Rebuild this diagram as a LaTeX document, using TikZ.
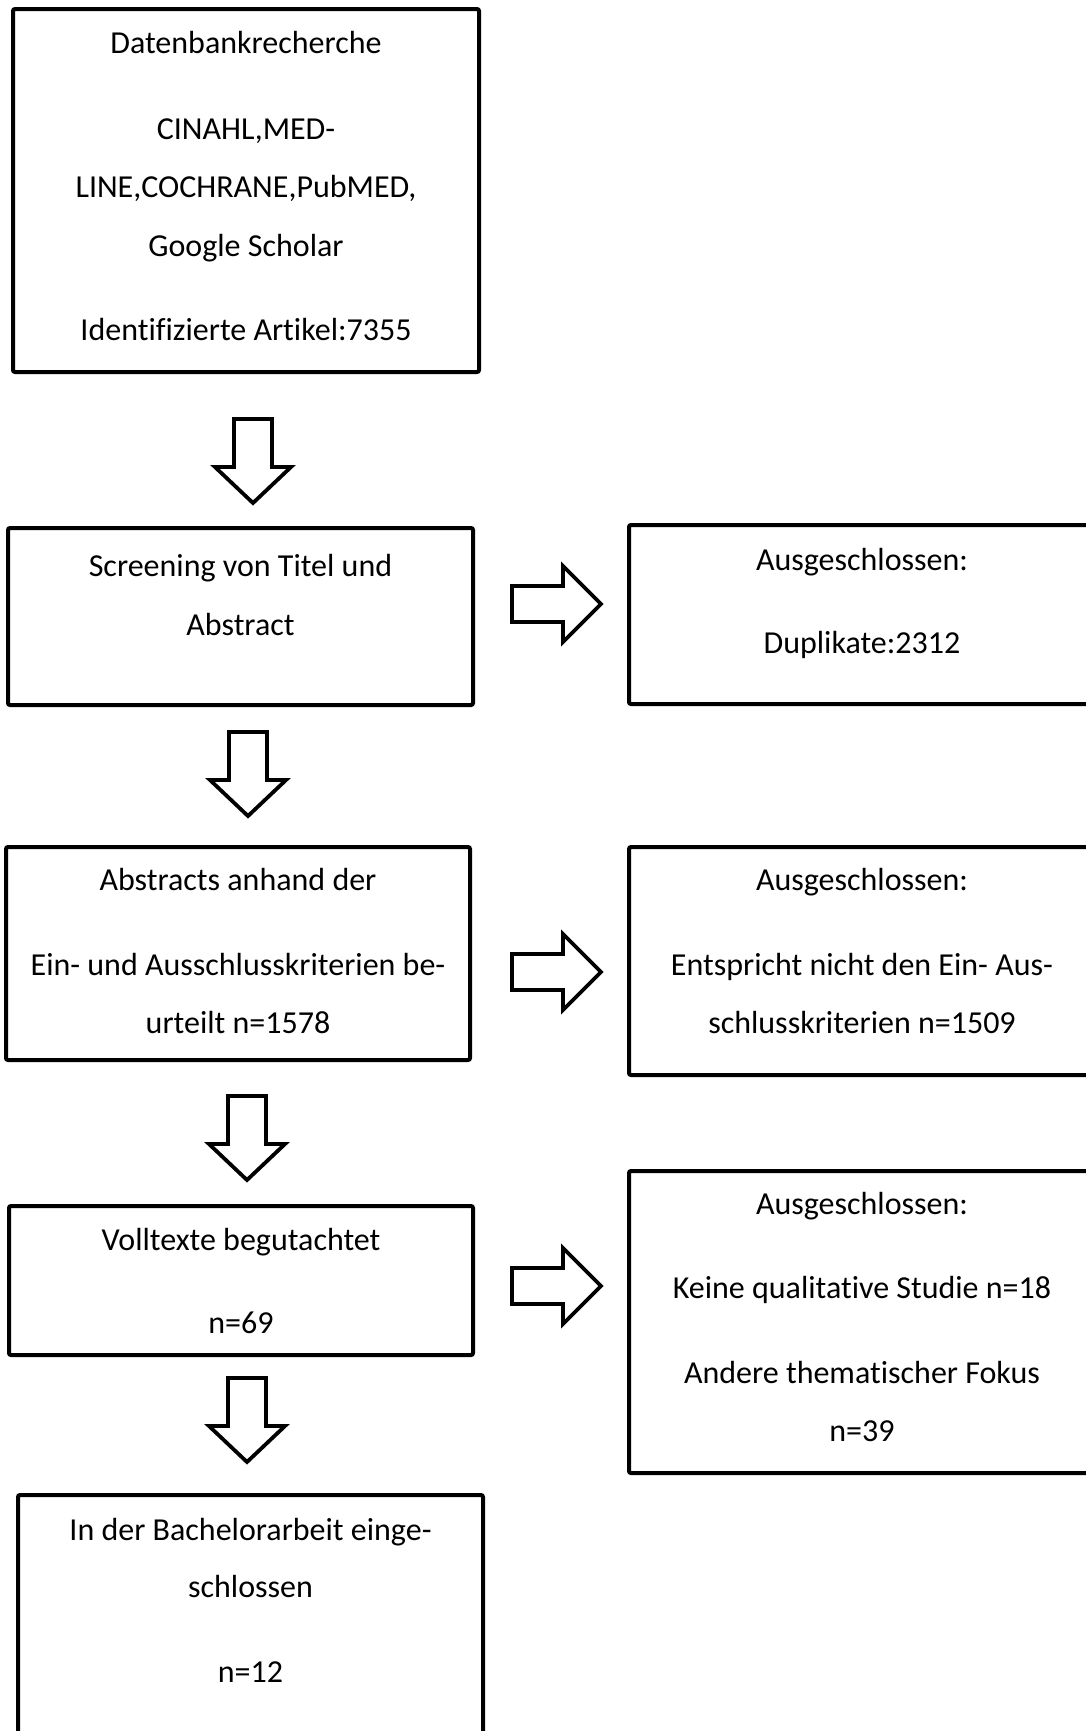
\documentclass[tikz,border=0pt]{standalone}
\usepackage{fontspec}
\setmainfont{Carlito}[Ligatures={NoCommon}]
\begin{document}
\begin{tikzpicture}[x=0.5pt,y=-0.5pt]
\tikzset{
 box/.style={draw, line width=2pt, rounded corners=1pt, inner sep=0pt},
 lbl/.style={anchor=base, inner sep=0pt, font=\fontsize{16pt}{19pt}\selectfont},
 blockarr/.style={draw, line width=1.9pt, fill=white, line join=miter},
 downarr/.pic={\path[blockarr] (-19,0) -- (19,0) -- (19,48) -- (38,48) -- (0,84) -- (-38,48) -- (-19,48) -- cycle;},
 rightarr/.pic={\path[blockarr] (0,-18) -- (51,-18) -- (51,-38) -- (89,0) -- (51,38) -- (51,18) -- (0,18) -- cycle;}
}
\useasboundingbox (0,0) rectangle (1086,1731);
\clip (0,0) rectangle (1086,1731);
\fill[white] (0,0) rectangle (1086,1731);

% boxes
\node[box, minimum width=233pt, minimum height=181.5pt] (b1) at (246,190.5) {};
\node[box, minimum width=232.5pt, minimum height=88.5pt] (b2) at (240.5,616.5) {};
\node[box, minimum width=233pt, minimum height=89.5pt] (r1) at (862,614.5) {};
\node[box, minimum width=232pt, minimum height=106.5pt] (b3) at (238,953.5) {};
\node[box, minimum width=233pt, minimum height=114pt] (r2) at (862,961) {};
\node[box, minimum width=232pt, minimum height=74.5pt] (b4) at (241,1280.5) {};
\node[box, minimum width=233pt, minimum height=151pt] (r3) at (862,1322) {};
\node[box, minimum width=232.5pt, minimum height=142.5pt] (b5) at (250.5,1637.5) {};

% texts box 1
\node[lbl] (t11) at (246,53) {Datenbankrecherche};
\node[lbl] (t12) at (246,139) {CINAHL,MED-};
\node[lbl] (t13) at (246,197) {LINE,COCHRANE,PubMED,};
\node[lbl] (t14) at (246,256) {Google Scholar};
\node[lbl] (t15) at (246,340) {Identifizierte Artikel:7355};
% box 2
\node[lbl] (t21) at (240.5,576) {Screening von Titel und};
\node[lbl] (t22) at (240.5,635) {Abstract};
% r1
\node[lbl] (u11) at (862,570) {Ausgeschlossen:};
\node[lbl] (u12) at (862,653) {Duplikate:2312};
% box 3
\node[lbl] (t31) at (238,890) {Abstracts anhand der};
\node[lbl] (t32) at (238,975) {Ein- und Ausschlusskriterien be-};
\node[lbl] (t33) at (238,1033) {urteilt n=1578};
% r2
\node[lbl] (u21) at (862,890) {Ausgeschlossen:};
\node[lbl] (u22) at (862,975) {Entspricht nicht den Ein- Aus-};
\node[lbl] (u23) at (862,1033) {schlusskriterien n=1509};
% box 4
\node[lbl] (t41) at (241,1250) {Volltexte begutachtet};
\node[lbl] (t42) at (241,1333) {n=69};
% r3
\node[lbl] (u31) at (862,1214) {Ausgeschlossen:};
\node[lbl] (u32) at (862,1298) {Keine qualitative Studie n=18};
\node[lbl] (u33) at (862,1383) {Andere thematischer Fokus};
\node[lbl] (u34) at (862,1441) {n=39};
% box 5
\node[lbl] (t51) at (250.5,1540) {In der Bachelorarbeit einge-};
\node[lbl] (t52) at (250.5,1597) {schlossen};
\node[lbl] (t53) at (250.5,1682) {n=12};

% block arrows
\pic (a1) at (253,419) {downarr};
\pic (a2) at (248,732) {downarr};
\pic (a3) at (247,1096) {downarr};
\pic (a4) at (247,1378) {downarr};
\pic (ra1) at (512,604) {rightarr};
\pic (ra2) at (512,972) {rightarr};
\pic (ra3) at (512,1286) {rightarr};
\end{tikzpicture}
\end{document}
